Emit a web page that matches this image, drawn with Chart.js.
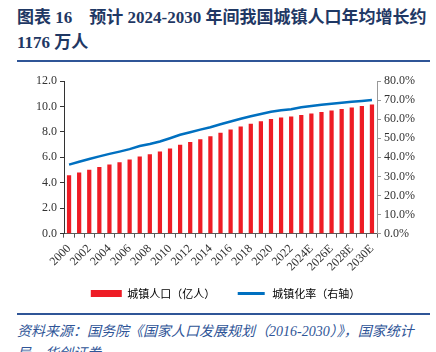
<!DOCTYPE html>
<html>
<head>
<meta charset="utf-8">
<script src="https://cdn.jsdelivr.net/npm/chart.js@4/dist/chart.umd.min.js"></script>
<style>
  body { margin: 0; width: 436px; height: 352px; overflow: hidden; background: #fff; position: relative; }
  .title { position: absolute; left: 17px; top: 5px; color: #1f3864; font-weight: bold; font-size: 17px; line-height: 25px;
           font-family: "Liberation Serif", "Noto Sans CJK SC", serif; white-space: nowrap; }
  .rule { position: absolute; left: 17px; width: 413px; height: 2px; background: #2f5597; }
  .chart { position: absolute; left: 0; top: 64px; width: 436px; height: 245px; }
  .src { position: absolute; left: 17px; top: 321px; color: #2f5597; font-style: italic; font-size: 14px; line-height: 22px;
         font-family: "Liberation Serif", "Noto Sans CJK SC", serif; white-space: nowrap; }
</style>
</head>
<body>
<div class="title">图表 16&nbsp;&nbsp;&nbsp;&nbsp;预计 2024-2030 年间我国城镇人口年均增长约<br>1176 万人</div>
<div class="rule" style="top:60px"></div>
<div class="chart"><canvas id="urbanChart"></canvas></div>
<div class="rule" style="top:313px"></div>
<div class="src">资料来源：国务院《国家人口发展规划（2016-2030）》，国家统计<br>局，华创证券</div>
<script>
// 数据
const years = ['2000', '2001', '2002', '2003', '2004', '2005', '2006', '2007', '2008', '2009',
    '2010', '2011', '2012', '2013', '2014', '2015', '2016', '2017', '2018', '2019',
    '2020', '2021', '2022', '2023', '2024E', '2025E', '2026E', '2027E', '2028E', '2029E', '2030E'];
// 城镇人口（亿人）
const urbanPop = [4.59, 4.81, 5.02, 5.24, 5.43, 5.62, 5.83, 6.06, 6.24, 6.45,
    6.70, 6.99, 7.21, 7.43, 7.65, 7.93, 8.19, 8.43, 8.64, 8.84,
    9.02, 9.14, 9.21, 9.33, 9.45, 9.57, 9.68, 9.80, 9.92, 10.04, 10.15];
// 城镇化率（%）
const urbanRate = [36.2, 37.7, 39.1, 40.5, 41.8, 43.0, 44.3, 45.9, 47.0, 48.3,
    50.0, 51.8, 53.1, 54.5, 55.8, 57.3, 58.8, 60.2, 61.5, 62.7,
    63.9, 64.7, 65.2, 66.2, 66.9, 67.5, 68.1, 68.6, 69.1, 69.5, 70.0];
const leftTicks = [0, 2, 4, 6, 8, 10, 12];
const rightTicks = [0, 10, 20, 30, 40, 50, 60, 70, 80];

const barColor = '#ee1c25';
const lineColor = '#0070c0';
const tickFont = { family: 'Liberation Serif', size: 12 };

let ctx = document.getElementById('urbanChart').getContext('2d');
new Chart(ctx, {
    type: 'bar',
    data: {
        labels: years,
        datasets: [{
            label: '城镇人口（亿人）',
            data: urbanPop,
            backgroundColor: barColor,
            categoryPercentage: 1,
            barPercentage: 0.42,
            yAxisID: 'y'
        }, {
            type: 'line',
            label: '城镇化率（右轴）',
            data: urbanRate,
            borderColor: lineColor,
            borderWidth: 2.5,
            pointRadius: 0,
            tension: 0,
            yAxisID: 'y1'
        }]
    },
    options: {
        responsive: true,
        maintainAspectRatio: false,
        animation: false,
        layout: { padding: { top: 17, left: 33, right: 18, bottom: 0 } },
        plugins: {
            tooltip: { enabled: false },
            legend: {
                position: 'bottom',
                labels: {
                    boxWidth: 31,
                    boxHeight: 7,
                    padding: 10,
                    color: '#404040',
                    font: { family: 'Noto Sans CJK SC', size: 11 },
                    generateLabels: function () {
                        return [
                            { text: '城镇人口（亿人）　  ', fillStyle: barColor, strokeStyle: barColor, lineWidth: 0, datasetIndex: 0 },
                            { text: '城镇化率（右轴）', fillStyle: lineColor, strokeStyle: '#ffffff', lineWidth: 4, datasetIndex: 1 }
                        ];
                    }
                }
            }
        },
        scales: {
            x: {
                grid: { display: true, drawOnChartArea: false, offset: true, color: '#595959', tickLength: 4 },
                border: { color: '#595959' },
                ticks: {
                    autoSkip: false,
                    minRotation: 45,
                    maxRotation: 45,
                    color: '#333',
                    font: { family: 'Liberation Serif', size: 12 },
                    padding: 4,
                    callback: function (v, i) { return i % 2 === 0 ? years[i] : ''; }
                }
            },
            y: {
                position: 'left',
                min: 0,
                max: 12,
                afterBuildTicks: axis => { axis.ticks = leftTicks.map(v => ({ value: v })); },
                grid: { display: true, drawOnChartArea: false, color: '#333', tickLength: 4 },
                border: { color: '#333' },
                ticks: { color: '#333', font: tickFont, padding: 3, callback: v => v.toFixed(1) }
            },
            y1: {
                position: 'right',
                min: 0,
                max: 80,
                afterBuildTicks: axis => { axis.ticks = rightTicks.map(v => ({ value: v })); },
                grid: { display: true, drawOnChartArea: false, color: '#999', tickLength: 4 },
                border: { color: '#999' },
                ticks: { color: '#333', font: tickFont, padding: 3, callback: v => v.toFixed(1) + '%' }
            }
        }
    }
});
</script>
</body>
</html>
